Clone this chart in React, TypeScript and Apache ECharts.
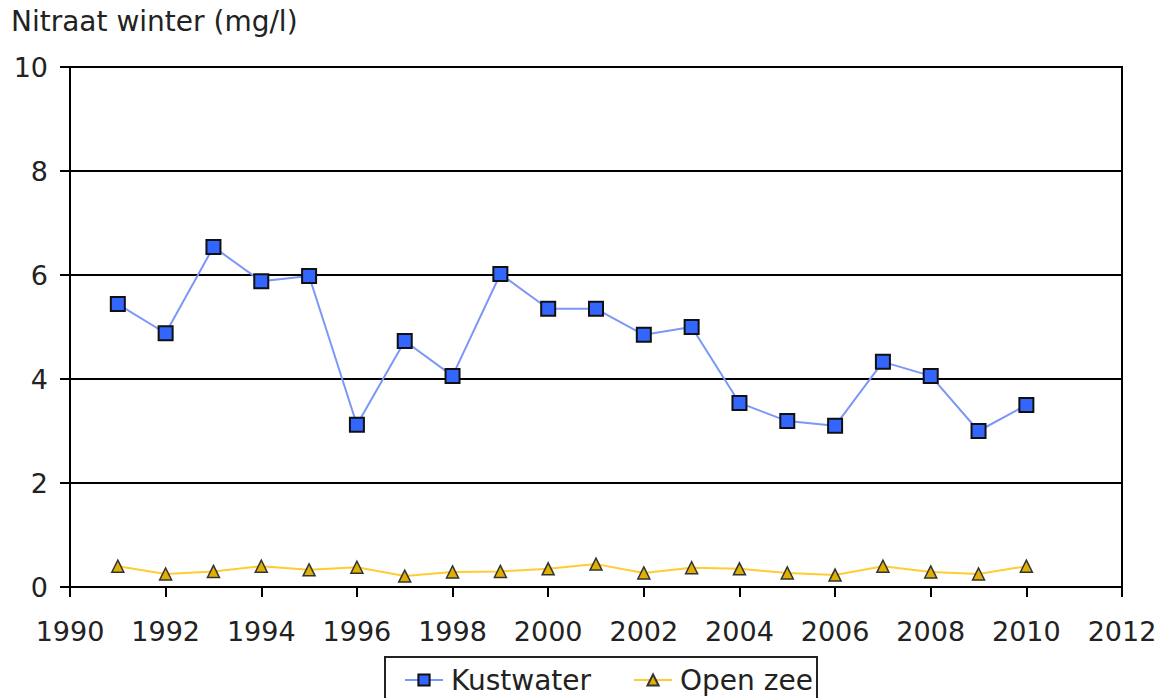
import React, { useEffect, useRef } from "react";
import * as echarts from "echarts";

const years = [1991, 1992, 1993, 1994, 1995, 1996, 1997, 1998, 1999, 2000, 2001, 2002, 2003, 2004, 2005, 2006, 2007, 2008, 2009, 2010];
const kustwater = [5.44, 4.88, 6.54, 5.88, 5.98, 3.12, 4.73, 4.06, 6.02, 5.35, 5.35, 4.85, 5.0, 3.54, 3.19, 3.1, 4.33, 4.06, 3.0, 3.5];
const openZee = [0.4, 0.25, 0.3, 0.4, 0.33, 0.38, 0.21, 0.29, 0.3, 0.35, 0.44, 0.27, 0.37, 0.35, 0.27, 0.23, 0.4, 0.29, 0.25, 0.4];

const FONT = "DejaVu Sans, Verdana, sans-serif";

export default function App() {
  const ref = useRef<HTMLDivElement>(null);
  useEffect(() => {
    document.body.style.margin = "0";
    const chart = echarts.init(ref.current!, null, { renderer: "svg" });
    chart.setOption({
      animation: false,
      backgroundColor: "#ffffff",
      textStyle: { fontFamily: FONT },
      title: {
        text: "Nitraat winter (mg/l)",
        left: 6,
        top: 2,
        textStyle: { fontSize: 28, fontWeight: "normal", color: "#222", fontFamily: FONT },
      },
      grid: {
        left: 70,
        right: 43,
        top: 67,
        bottom: 111,
        show: true,
        borderColor: "#000",
        borderWidth: 2,
        backgroundColor: "transparent",
      },
      xAxis: {
        type: "value",
        min: 1990,
        max: 2012,
        interval: 2,
        axisLine: { show: true, lineStyle: { color: "#000", width: 2 } },
        axisTick: { show: true, length: 10, lineStyle: { color: "#000", width: 2 } },
        splitLine: { show: false },
        axisLabel: {
          fontSize: 27,
          color: "#222",
          margin: 31,
          fontFamily: FONT,
          formatter: (v: number) => String(v),
        },
      },
      yAxis: {
        type: "value",
        min: 0,
        max: 10,
        interval: 2,
        axisLine: { show: true, lineStyle: { color: "#000", width: 2 } },
        axisTick: { show: true, length: 10, lineStyle: { color: "#000", width: 2 } },
        splitLine: { show: true, lineStyle: { color: "#000", width: 2 } },
        axisLabel: { fontSize: 27, color: "#222", margin: 22, fontFamily: FONT },
      },
      legend: {
        left: 404,
        top: 666,
        padding: 0,
        itemWidth: 38,
        itemHeight: 14,
        itemGap: 42,
        textStyle: { fontSize: 28, lineHeight: 28, color: "#222", fontFamily: FONT, padding: [0, 0, 0, 3] },
        data: ["Kustwater", "Open zee"],
      },
      graphic: [
        {
          type: "rect",
          shape: { x: 385, y: 657, width: 432, height: 60 },
          style: { fill: "none", stroke: "#222", lineWidth: 2 },
          silent: true,
        },
      ],
      series: [
        {
          name: "Kustwater",
          type: "line",
          data: years.map((y, i) => [y, kustwater[i]]),
          symbol: "rect",
          symbolSize: 14,
          lineStyle: { color: "#7b97f7", width: 2 },
          itemStyle: { color: "#3366ff", borderColor: "#111", borderWidth: 2 },
        },
        {
          name: "Open zee",
          type: "line",
          data: years.map((y, i) => [y, openZee[i]]),
          symbol: "triangle",
          symbolSize: 12,
          lineStyle: { color: "#ffcc33", width: 2 },
          itemStyle: { color: "#e0b000", borderColor: "#333", borderWidth: 1.5 },
        },
      ],
    });
    return () => chart.dispose();
  }, []);
  return <div ref={ref} style={{ width: 1165, height: 698 }} />;
}
